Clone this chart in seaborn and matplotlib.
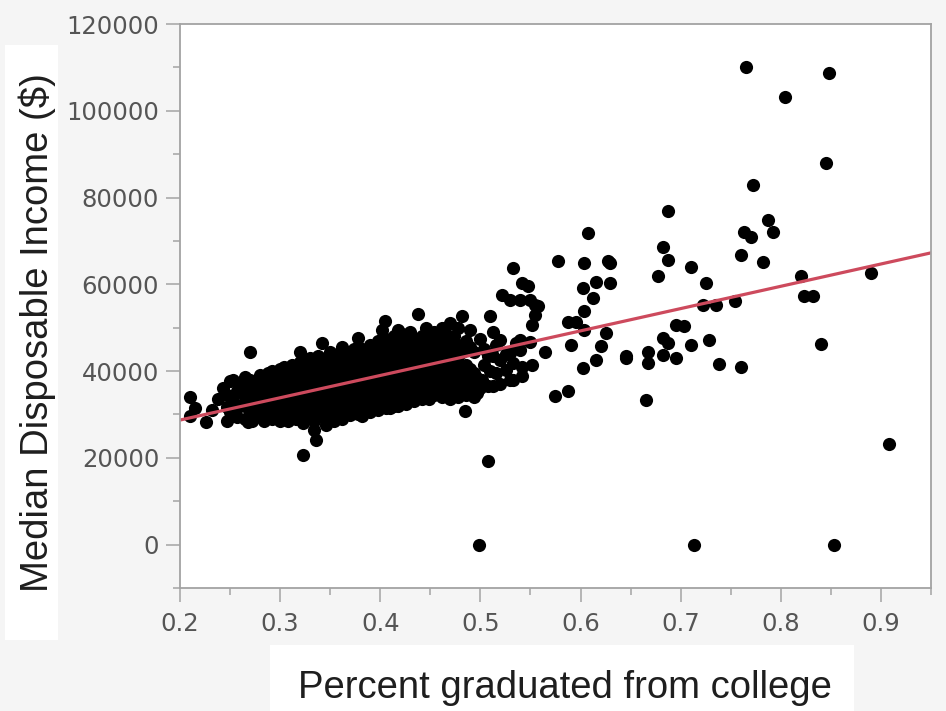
import numpy as np
import pandas as pd
import matplotlib
matplotlib.use("Agg")
import matplotlib.pyplot as plt
from matplotlib.patches import Rectangle
from matplotlib.ticker import MultipleLocator, FixedLocator, StrMethodFormatter
import seaborn as sns

sns.set_theme(style="white")
plt.rcParams["font.family"] = ["DejaVu Sans"]

# Counties in the dense band (share of adults with a college degree, income in $1000s)
band_pct = (
    [0.210] * 2 + [0.215] + [0.226] + [0.232] + [0.238] + [0.243] + [0.247] * 3 +
    [0.250] * 2 + [0.253] * 2 + [0.257] * 2 + [0.260] * 2 + [0.265] * 3 + [0.268] * 3 +
    [0.270] * 2 + [0.272] * 3 + [0.276] * 3 + [0.280] * 4 + [0.284] * 4 + [0.288] * 4 +
    [0.292] * 5 + [0.296] * 4 + [0.300] * 5 + [0.304] * 5 + [0.308] * 5 + [0.312] * 5 +
    [0.316] * 5 + [0.320] * 6 + [0.323] * 2 + [0.326] * 5 + [0.330] * 6 + [0.334] * 6 +
    [0.336] + [0.338] * 6 + [0.342] * 6 + [0.346] * 7 + [0.350] * 6 + [0.354] * 6 +
    [0.358] * 6 + [0.362] * 7 + [0.366] * 6 + [0.370] * 6 + [0.374] * 6 + [0.378] * 7 +
    [0.382] * 7 + [0.386] * 6 + [0.390] * 7 + [0.394] * 6 + [0.398] * 7 + [0.402] * 7 +
    [0.405] + [0.406] * 7 + [0.410] * 7 + [0.414] * 7 + [0.418] * 8 + [0.422] * 7 +
    [0.426] * 7 + [0.430] * 7 + [0.434] * 7 + [0.438] * 7 + [0.442] * 7 + [0.446] * 7 +
    [0.449] + [0.450] * 6 + [0.454] * 7 + [0.458] * 6 + [0.462] * 7 + [0.466] * 6 +
    [0.470] * 7 + [0.473] + [0.474] * 5 + [0.478] * 7 + [0.482] * 5 + [0.485] +
    [0.486] * 5 + [0.490] * 5 + [0.494] * 4 + [0.497] * 2 + [0.500] * 2
)
band_income_k = [
    34.0, 29.6, 31.5, 28.2, 31.0, 33.6, 36.1, 28.4, 31.8, 34.5,
    37.8, 30.5, 38.0, 33.0, 35.5, 29.5, 36.6, 32.0, 38.7, 34.0, 29.0, 28.2, 31.5, 36.0,
    44.4, 38.0, 28.4, 33.5, 30.5, 31.5, 35.0, 37.5, 29.5, 33.0, 36.5, 39.0,
    28.5, 31.0, 34.5, 38.0, 30.0, 33.5, 36.0, 39.5,
    29.0, 32.0, 35.0, 37.5, 40.0, 30.5, 33.0, 36.0, 39.1,
    28.5, 31.5, 34.0, 37.0, 40.5, 29.5, 32.5, 35.5, 38.0, 41.0,
    28.4, 31.0, 34.0, 36.5, 39.5, 30.0, 33.0, 35.5, 38.5, 41.5,
    29.0, 31.5, 34.5, 37.0, 40.0, 30.5, 33.5, 36.0, 39.0, 42.0, 44.4, 20.7, 28.0,
    29.5, 32.0, 34.5, 37.5, 40.5, 30.0, 33.0, 35.5, 38.5, 41.5, 43.0,
    26.4, 28.5, 31.5, 34.0, 37.0, 39.5, 24.2,
    29.5, 32.5, 35.5, 38.0, 41.0, 43.5, 46.4, 30.5, 33.5, 36.5, 39.0, 42.0,
    27.6, 29.0, 32.0, 34.5, 37.5, 40.5, 43.0, 30.5, 33.5, 36.0, 39.0, 41.5, 44.5,
    28.5, 31.5, 34.5, 37.0, 40.0, 42.5, 30.0, 33.0, 35.5, 38.5, 41.0, 44.0,
    29.0, 32.0, 34.5, 37.5, 40.0, 43.0, 45.5, 30.5, 33.5, 36.0, 39.0, 41.5, 44.0,
    29.8, 32.5, 35.0, 38.0, 40.5, 43.5, 31.0, 34.0, 36.5, 39.5, 42.0, 45.0,
    30.0, 32.5, 35.5, 38.0, 41.0, 43.5, 47.6, 29.6, 31.5, 34.0, 37.0, 39.5, 42.5, 45.0,
    31.0, 33.5, 36.0, 38.5, 41.0, 44.0, 30.5, 32.5, 35.0, 37.5, 40.5, 43.0, 46.0,
    32.0, 34.5, 37.0, 39.5, 42.0, 45.0, 31.0, 33.5, 36.0, 38.5, 41.5, 44.0, 47.0,
    32.5, 35.0, 37.5, 40.0, 43.0, 45.5, 49.5, 51.5,
    31.5, 34.0, 36.5, 39.0, 42.0, 44.5, 47.5, 31.5, 33.0, 35.5, 38.0, 41.0, 43.5, 46.5,
    32.0, 34.5, 37.0, 39.5, 42.5, 45.0, 48.0, 31.9, 33.5, 36.0, 38.5, 41.0, 44.0, 46.5, 49.4,
    33.0, 35.5, 38.0, 40.5, 43.0, 45.5, 48.5, 32.5, 34.5, 37.0, 39.5, 42.0, 44.5, 47.0,
    33.5, 36.0, 38.5, 41.0, 43.5, 46.0, 49.0, 33.0, 35.0, 37.5, 40.0, 42.5, 45.0, 47.5,
    34.0, 36.5, 39.0, 41.5, 44.0, 46.5, 53.2, 33.5, 35.5, 38.0, 40.5, 43.0, 45.5, 48.0,
    34.5, 37.0, 39.5, 42.0, 44.5, 47.0, 50.0, 33.6,
    35.5, 38.0, 40.5, 43.0, 45.5, 48.5, 34.5, 36.5, 39.0, 41.5, 44.0, 46.5, 49.0,
    35.0, 37.5, 40.0, 42.5, 45.0, 46.8, 34.0, 36.5, 39.0, 41.0, 43.5, 47.5, 50.0,
    35.5, 38.0, 40.5, 42.5, 45.0, 48.5, 33.5, 36.0, 38.5, 41.5, 44.0, 46.5, 51.0, 35.7,
    37.0, 39.5, 42.0, 44.5, 48.0, 34.0, 36.5, 38.0, 41.0, 43.5, 46.0, 50.0,
    35.5, 38.5, 40.0, 44.5, 52.7, 30.8,
    34.5, 37.0, 39.5, 41.5, 47.0, 36.0, 38.0, 40.5, 45.5, 49.5,
    34.0, 37.5, 39.5, 44.5, 34.9, 38.5, 36.0, 47.5,
]

# Counties spread out above 50% graduation
upper_pct = [
    0.499, 0.502, 0.504, 0.504, 0.508, 0.508, 0.508, 0.510, 0.510,
    0.513, 0.513, 0.513, 0.516, 0.516, 0.520, 0.520, 0.520, 0.522,
    0.526, 0.526, 0.530, 0.530, 0.530, 0.533, 0.533, 0.533, 0.536,
    0.540, 0.540, 0.540, 0.542, 0.542, 0.542, 0.548, 0.550, 0.550,
    0.552, 0.552, 0.555, 0.555, 0.558, 0.565, 0.575, 0.577, 0.587,
    0.587, 0.590, 0.595, 0.602, 0.602, 0.603, 0.603, 0.603, 0.607,
    0.612, 0.615, 0.615, 0.620, 0.625, 0.627, 0.629, 0.629, 0.645,
    0.645, 0.665, 0.667, 0.667, 0.677, 0.682, 0.682, 0.682, 0.687,
    0.687, 0.687, 0.695, 0.695, 0.703, 0.710, 0.710, 0.713, 0.722,
    0.725, 0.728, 0.735, 0.738, 0.754, 0.760, 0.760, 0.763, 0.765,
    0.770, 0.772, 0.782, 0.787, 0.792, 0.804, 0.820, 0.823, 0.832,
    0.840, 0.845, 0.848, 0.853, 0.890, 0.908,
]
upper_income_k = [
    0.0, 38.0, 41.5, 45.0, 19.2, 36.5, 43.5, 52.6, 40.0,
    49.1, 36.5, 43.4, 39.5, 46.0, 42.6, 47.2, 37.0, 57.6,
    40.3, 44.0, 44.1, 56.4, 38.0, 63.7, 41.8, 38.0, 46.5,
    56.4, 47.2, 44.9, 60.3, 41.0, 38.8, 59.5, 56.4, 46.8,
    50.7, 41.5, 55.3, 53.0, 54.9, 44.5, 34.2, 65.3, 35.3,
    51.4, 46.1, 51.4, 40.7, 59.1, 64.9, 53.8, 49.5, 71.8,
    56.8, 60.6, 42.6, 45.7, 48.8, 65.3, 64.9, 60.3, 43.4,
    43.0, 33.4, 44.5, 41.8, 61.8, 68.7, 47.6, 43.8, 77.0,
    65.6, 46.4, 50.7, 43.0, 50.5, 64.1, 45.9, 0.0, 55.3,
    60.3, 47.2, 55.3, 41.6, 56.1, 66.8, 41.0, 72.0, 110.1,
    71.0, 82.9, 65.2, 74.8, 72.0, 103.2, 61.8, 57.2, 57.2,
    46.3, 87.9, 108.6, 0.0, 62.6, 23.1,
]

counties = pd.DataFrame({
    "grad_share": band_pct + upper_pct,
    "income": np.array(band_income_k + upper_income_k) * 1000,
})

W, H = 946, 711
fig = plt.figure(figsize=(W / 100, H / 100), dpi=100, facecolor="#f5f5f5")

# white panels behind the axis titles
fig.add_artist(Rectangle((5 / W, 1 - 640 / H), 53 / W, 595 / H,
                         transform=fig.transFigure, facecolor="white",
                         edgecolor="none", zorder=0))
fig.add_artist(Rectangle((270 / W, 0), 584 / W, 66 / H,
                         transform=fig.transFigure, facecolor="white",
                         edgecolor="none", zorder=0))

ax = fig.add_axes([180 / W, 1 - 588 / H, (931 - 180) / W, (588 - 24) / H])
ax.set_facecolor("white")
ax.set_xlim(0.2, 0.95)
ax.set_ylim(-10000, 120000)

sns.regplot(
    data=counties, x="grad_share", y="income", ax=ax,
    ci=None, truncate=False,
    scatter_kws=dict(s=90, color="black", linewidths=0, alpha=1),
    line_kws=dict(color="#cd4a5d", linewidth=2.3),
)
ax.set_xlim(0.2, 0.95)
ax.set_ylim(-10000, 120000)

x_ticks = [0.2, 0.3, 0.4, 0.5, 0.6, 0.7, 0.8, 0.9]
y_ticks = [0, 20000, 40000, 60000, 80000, 100000, 120000]
ax.xaxis.set_major_locator(FixedLocator(x_ticks))
ax.yaxis.set_major_locator(FixedLocator(y_ticks))
ax.xaxis.set_minor_locator(MultipleLocator(0.05))
ax.yaxis.set_minor_locator(MultipleLocator(10000))
ax.xaxis.set_major_formatter(StrMethodFormatter("{x:.1f}"))
ax.yaxis.set_major_formatter(StrMethodFormatter("{x:.0f}"))

axis_grey = "#a3a3a3"
for side in ["left", "right", "top", "bottom"]:
    ax.spines[side].set_visible(True)
    ax.spines[side].set_color(axis_grey)
    ax.spines[side].set_linewidth(1.3)

ax.tick_params(which="both", direction="out", color=axis_grey, width=1.1,
               labelcolor="#555555", labelsize=17.5)
ax.tick_params(which="major", length=10)
ax.tick_params(which="minor", length=5)
ax.tick_params(axis="y", which="major", pad=5)
ax.tick_params(axis="x", which="major", pad=7)
ax.tick_params(top=False, right=False, which="both")
ax.tick_params(left=True, bottom=True, which="both")

ax.set_xlabel("")
ax.set_ylabel("")
fig.text(565 / W, 1 - 688 / H, "Percent graduated from college",
         family=["Liberation Sans"], fontsize=27.5, color="#1e1e1e",
         ha="center", va="center")
fig.text(37 / W, 1 - 333 / H, "Median Disposable Income ($)",
         family=["Liberation Sans"], fontsize=27.5, color="#1e1e1e",
         ha="center", va="center", rotation=90)

fig.savefig("out.png", dpi=100, facecolor=fig.get_facecolor())
